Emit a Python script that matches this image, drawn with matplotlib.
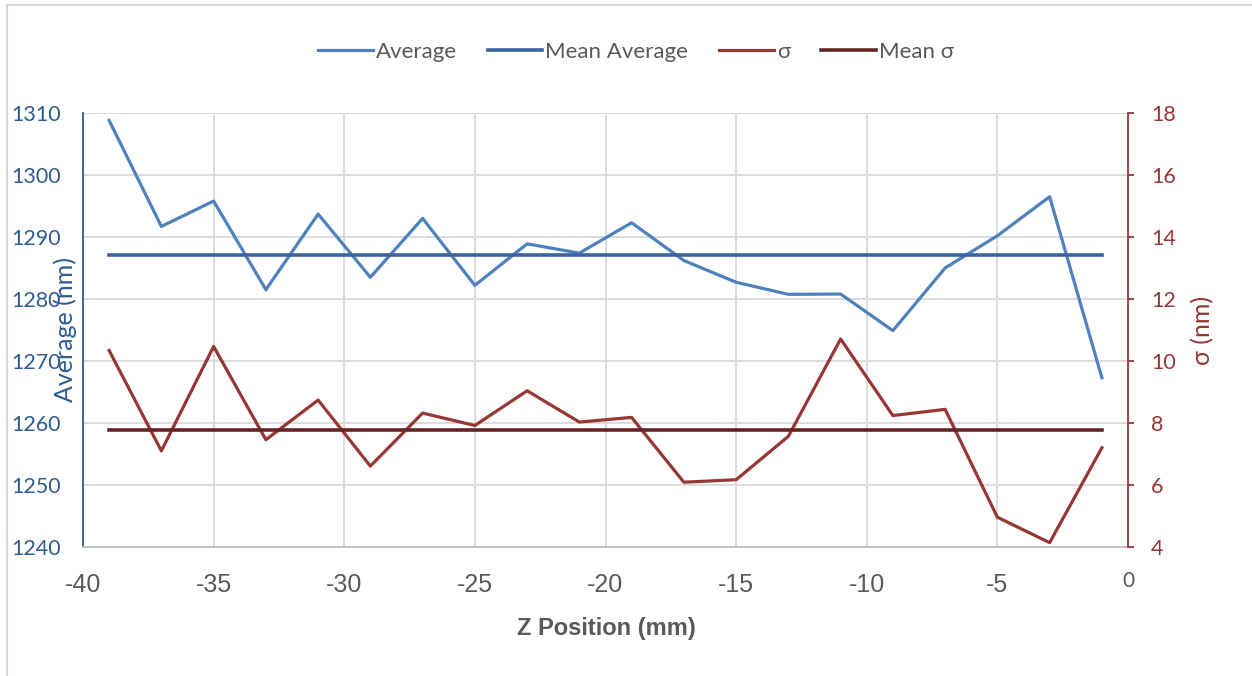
import numpy as np
import matplotlib
matplotlib.use("Agg")
import matplotlib.pyplot as plt
from matplotlib.patches import Rectangle

# --- DATA ---
z_position = [-39, -37, -35, -33, -31, -29, -27, -25, -23, -21,
              -19, -17, -15, -13, -11, -9, -7, -5, -3, -1]
average_nm = [1308.8, 1291.7, 1295.8, 1281.5, 1293.7, 1283.5, 1293.0, 1282.2, 1288.9, 1287.4,
              1292.3, 1286.2, 1282.7, 1280.75, 1280.8, 1274.9, 1285.0, 1290.2, 1296.5, 1267.3]
sigma_nm = [10.34, 7.1, 10.47, 7.46, 8.74, 6.61, 8.32, 7.92, 9.04, 8.03,
            8.18, 6.09, 6.17, 7.57, 10.71, 8.24, 8.44, 4.96, 4.14, 7.2]
x_ticks = [-40, -35, -30, -25, -20, -15, -10, -5, 0]
left_ticks = [1240, 1250, 1260, 1270, 1280, 1290, 1300, 1310]
right_ticks = [4, 6, 8, 10, 12, 14, 16, 18]

mean_average = np.mean(average_nm)
mean_sigma = np.mean(sigma_nm)

# --- COLOURS ---
c_avg = "#4F81BD"
c_mean_avg = "#3A64A0"
c_sigma = "#953735"
c_mean_sigma = "#632523"
c_left = "#2F5C8F"
c_text = "#595959"
c_grid = "#D9D9D9"

label_font = ["Lato", "DejaVu Sans"]
narrow_font = ["Liberation Sans Narrow", "Liberation Sans", "DejaVu Sans"]

fig = plt.figure(figsize=(12.52, 6.76), dpi=100)
ax = fig.add_axes([83 / 1252, 1 - 547 / 676, (1128 - 83) / 1252, (547 - 113) / 676])
ax2 = ax.twinx()

l1, = ax.plot(z_position, average_nm, color=c_avg, lw=2.3, label="Average", zorder=3)
l2, = ax.plot([z_position[0], z_position[-1]], [mean_average, mean_average],
              color=c_mean_avg, lw=2.6, label="Mean Average", zorder=4)
l3, = ax2.plot(z_position, sigma_nm, color=c_sigma, lw=2.3, label="σ", zorder=3)
l4, = ax2.plot([z_position[0], z_position[-1]], [mean_sigma, mean_sigma],
               color=c_mean_sigma, lw=2.6, label="Mean σ", zorder=4)

# --- AXES ---
ax.set_xlim(-40, 0)
ax.set_ylim(1240, 1310)
ax2.set_ylim(4, 18)
ax.set_xticks(x_ticks)
ax.set_xticklabels([str(t) for t in x_ticks[:-1]] + [""])
ax.set_yticks(left_ticks)
ax2.set_yticks(right_ticks)

ax.grid(True, color=c_grid, lw=1.3)
ax.set_axisbelow(True)

for s in ["top", "right"]:
    ax.spines[s].set_visible(False)
ax.spines["left"].set_color(c_left)
ax.spines["left"].set_linewidth(1.3)
ax.spines["bottom"].set_color("#BFBFBF")
ax.spines["bottom"].set_linewidth(1.3)
for s in ["top", "left", "bottom"]:
    ax2.spines[s].set_visible(False)
ax2.spines["right"].set_color(c_sigma)
ax2.spines["right"].set_linewidth(1.3)

ax.tick_params(axis="y", length=0, pad=16, labelcolor=c_left, labelsize=15.5)
ax.tick_params(axis="x", length=0, pad=19, labelcolor=c_text, labelsize=18)
ax2.tick_params(axis="y", direction="out", length=4.5, width=1.3, color=c_sigma,
                pad=12, labelcolor=c_sigma, labelsize=15.5)
for lbl in ax.get_yticklabels() + ax2.get_yticklabels():
    lbl.set_family(label_font)
for lbl in ax.get_xticklabels():
    lbl.set_family(narrow_font)

# the zero label sits a little higher than the others
ax.annotate("0", xy=(0, 0), xycoords=("data", "axes fraction"), xytext=(0, -17),
            textcoords="offset points", ha="center", va="top",
            fontsize=15, color=c_text, family=label_font)

# --- LABELS ---
fig.text(65 / 1252, 1 - 330 / 676, "Average (nm)", rotation=90, ha="center", va="center",
         fontsize=18, color=c_left, family=label_font)
fig.text(1203 / 1252, 1 - 330 / 676, "σ (nm)", rotation=90, ha="center", va="center",
         fontsize=18, color=c_sigma, family=label_font)
fig.text(606 / 1252, 1 - 629 / 676, "Z Position (mm)", ha="center", va="center",
         fontsize=17, fontweight="bold", color=c_text, family=narrow_font)

fig.legend(handles=[l1, l2, l3, l4], loc="center", bbox_to_anchor=(636 / 1252, 1 - 52 / 676),
           ncol=4, frameon=False, handlelength=2.45, handletextpad=0.14, columnspacing=1.4,
           prop={"family": label_font, "size": 16}, labelcolor=c_text)

# light frame round the chart
fig.patches.append(Rectangle((7 / 1252, -0.05), 1.5, 1 - 5 / 676 + 0.05, transform=fig.transFigure,
                             fill=False, edgecolor=c_grid, lw=1.5))

fig.savefig("out.png", dpi=100)
